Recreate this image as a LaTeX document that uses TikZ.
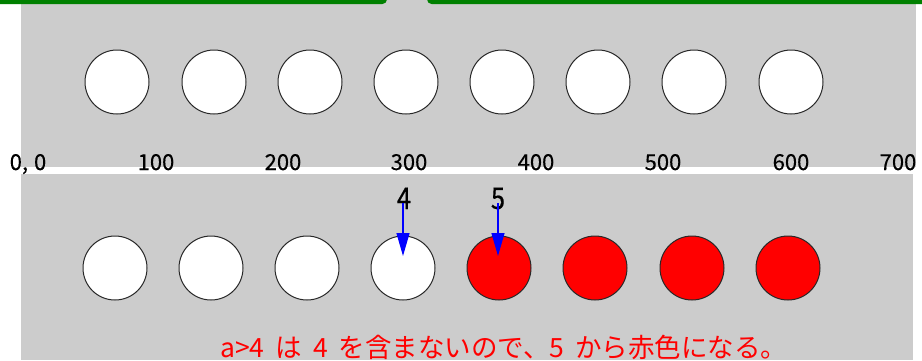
\documentclass[tikz,border=0pt]{standalone}
\usepackage{fontspec}
\setmainfont{Noto Sans CJK JP}
\newfontfamily\digitfont{Noto Sans CJK JP}[FakeBold=0.3]
\newfontfamily\tallfont{Noto Sans CJK JP}[FakeBold=0.4, FakeStretch=0.85]
\usetikzlibrary{arrows.meta}
\definecolor{bggray}{RGB}{204,204,204}
\definecolor{frgreen}{RGB}{0,128,0}
\definecolor{edgegray}{RGB}{40,40,40}
\definecolor{pureblue}{RGB}{0,0,255}
\definecolor{purered}{RGB}{255,0,0}
\newcommand{\gsp}{\hspace{11pt}}
\tikzset{
  ball/.style={circle, draw=edgegray, line width=1pt, fill=white, minimum size=64pt, inner sep=0pt},
  redball/.style={ball, fill=purered},
  axislbl/.style={anchor=base, inner sep=0pt, font=\digitfont\fontsize{22pt}{22pt}\selectfont},
  idxlbl/.style={anchor=base, inner sep=0pt, font=\tallfont\fontsize{30pt}{30pt}\selectfont},
  pointer/.style={pureblue, line width=1.2pt, -{Triangle[length=23pt,width=13pt]}},
  frame/.style={frgreen, line width=4pt, rounded corners=3pt},
  note/.style={anchor=base west, inner sep=0pt, text=purered, font=\fontsize{26.5pt}{27pt}\selectfont}
}
\begin{document}
\begin{tikzpicture}[x=1pt, y=-1pt]
\useasboundingbox (0,0) rectangle (922,360);
% backgrounds
\fill[bggray] (21,0) rectangle (916,167);
\fill[bggray] (21,174) rectangle (913,360);
% green frames
\draw[frame] (-10,2) -- (385,2) -- (385,-20);
\draw[frame] (429,-20) -- (429,2) -- (935,2);
% top row
\foreach \i/\x in {1/117,2/214,3/310,4/406,5/502,6/598,7/694,8/791}
  \node[ball] (t\i) at (\x,82) {};
% axis labels
\node[axislbl] (l0) at (28,170) {0,\hspace{6pt}0};
\foreach \v/\x in {100/156,200/283,300/409,400/536,500/663,600/791,700/898}
  \node[axislbl] (l\v) at (\x,170) {\v};
% bottom row
\foreach \i/\x in {1/115,2/211,3/307,4/403}
  \node[ball] (b\i) at (\x,268) {};
\foreach \i/\x in {5/499,6/595,7/692,8/788}
  \node[redball] (b\i) at (\x,268) {};
% index labels and pointers
\node[idxlbl] (n4) at (404,209) {4};
\node[idxlbl] (n5) at (498,209) {5};
\coordinate (s4) at (403,203);
\coordinate (e4) at (403,256);
\coordinate (s5) at (498,203);
\coordinate (e5) at (498,256);
\draw[pointer] (s4) -- (e4);
\draw[pointer] (s5) -- (e5);
% note
\node[note] (msg) at (220,357) {a>4\gsp は\gsp 4\gsp を含まないので、5\gsp から赤色になる。};
\end{tikzpicture}
\end{document}
